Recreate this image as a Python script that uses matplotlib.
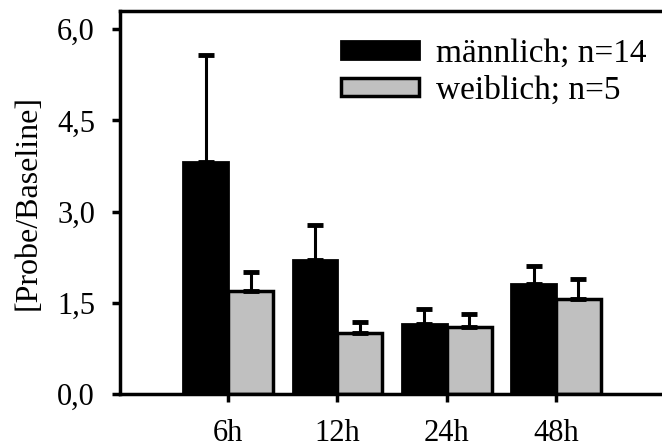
import matplotlib
matplotlib.use("Agg")
import matplotlib.pyplot as plt
import numpy as np
from matplotlib.ticker import FuncFormatter

# Daten
zeitpunkte = ['6h', '12h', '24h', '48h']
maennlich = [3.82, 2.20, 1.15, 1.81]
maennlich_sd = [1.76, 0.58, 0.25, 0.29]
weiblich = [1.69, 1.00, 1.10, 1.56]
weiblich_sd = [0.31, 0.18, 0.22, 0.33]
label_m = 'männlich; n=14'
label_w = 'weiblich; n=5'

plt.rcParams['font.family'] = ['Liberation Serif', 'DejaVu Serif']

fig = plt.figure(figsize=(6.62, 4.48), dpi=100)
ax = fig.add_axes([120/662, 54/448, 1 - 120/662, 383/448])

x = np.arange(len(zeitpunkte))
b = 0.41
err_kw = dict(ecolor='black', elinewidth=2.2, capsize=6, capthick=3.5)

ax.bar(x - b/2, maennlich, b, color='black', edgecolor='black', linewidth=2,
       yerr=[np.zeros(4), maennlich_sd], error_kw=err_kw, label=label_m, zorder=2)
ax.bar(x + b/2, weiblich, b, color='#c0c0c0', edgecolor='black', linewidth=2.5,
       yerr=[np.zeros(4), weiblich_sd], error_kw=err_kw, label=label_w, zorder=2)

ax.set_xlim(-0.99, 3.97)
ax.set_ylim(0, 6.3)
ax.set_yticks([0, 1.5, 3.0, 4.5, 6.0])
ax.yaxis.set_major_formatter(FuncFormatter(lambda v, p: f'{v:.1f}'.replace('.', ',')))
ax.set_xticks(x)
ax.set_xticklabels(zeitpunkte)

for s in ['left', 'bottom', 'top']:
    ax.spines[s].set_linewidth(2.5)
ax.spines['right'].set_visible(False)

ax.tick_params(axis='y', direction='out', length=6, width=2.5, pad=12, labelsize=22)
ax.tick_params(axis='x', direction='out', length=6, width=2.5, pad=12, labelsize=22)
ax.set_ylabel('[Probe/Baseline]', fontsize=23, labelpad=10)

ax.legend(loc='upper left', bbox_to_anchor=(341/662, 1 - 38/448), bbox_transform=fig.transFigure,
          frameon=False, fontsize=24, handlelength=2.35, handleheight=0.45,
          handletextpad=0.5, labelspacing=0.2, borderpad=0, borderaxespad=0)

fig.savefig('out.png', dpi=100)
